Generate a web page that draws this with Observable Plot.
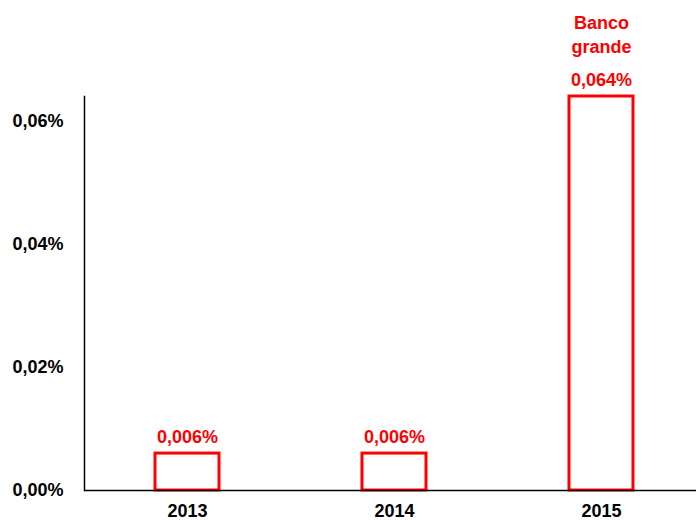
<!DOCTYPE html>
<html>
<head>
<meta charset="utf-8">
<script src="https://cdn.jsdelivr.net/npm/d3@7"></script>
<script src="https://cdn.jsdelivr.net/npm/@observablehq/plot@0.6"></script>
<style>
  body { margin: 0; background: #fff; }
  svg { font-family: "Liberation Sans", Arial, sans-serif; overflow: visible; }
</style>
</head>
<body>
<div id="chart"></div>
<script>
const years = ["2013", "2014", "2015"];
const values = [0.006, 0.006, 0.064];
const valueLabels = ["0,006%", "0,006%", "0,064%"];
const seriesName = "Banco grande";
const yTicks = [0, 0.02, 0.04, 0.06];

const data = years.map((y, i) => ({year: y, value: values[i], label: valueLabels[i]}));
const fmt = d => d.toFixed(2).replace(".", ",") + "%";

const chart = Plot.plot({
  width: 696,
  height: 520,
  marginLeft: 84,
  marginRight: 0,
  marginTop: 96,
  marginBottom: 30,
  style: {fontFamily: "'Liberation Sans', Arial, sans-serif", fontSize: "18px", fontWeight: "bold", color: "#000", background: "#fff", overflow: "visible"},
  x: {domain: years, range: [84, 705], paddingInner: 0.69, paddingOuter: 0.345, label: null},
  y: {domain: [0, 0.064], label: null},
  marks: [
    Plot.barY(data, {x: "year", y: "value", fill: "white", stroke: "#ff0000", strokeWidth: 3}),
    Plot.axisY({ticks: yTicks, tickFormat: fmt, tickSize: 0, tickPadding: 21, label: null, fontSize: 18, fontWeight: "bold"}),
    Plot.axisX({tickSize: 0, tickPadding: 14, label: null, fontSize: 18, fontWeight: "bold"}),
    Plot.frame({anchor: "left", stroke: "#000", strokeWidth: 1.5}),
    Plot.ruleY([0], {stroke: "#000", strokeWidth: 1.5}),
    Plot.text(data, {x: "year", y: "value", text: "label", fill: "#ff0000", fontSize: 18, fontWeight: "bold", lineAnchor: "bottom", dy: -11}),
    Plot.text(data.filter(d => d.year === "2015"), {x: "year", y: "value", text: () => seriesName.replace(" ", "\n"), fill: "#ff0000", fontSize: 18, fontWeight: "bold", lineAnchor: "bottom", lineHeight: 1.3, dy: -44})
  ]
});
document.getElementById("chart").appendChild(chart);
</script>
</body>
</html>
